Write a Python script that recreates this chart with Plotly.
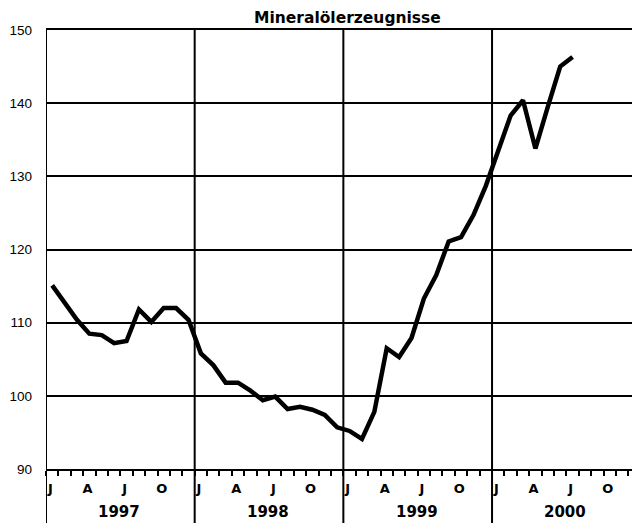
import plotly.graph_objects as go

# Monthly index values, Jan 1997 .. Jul 2000
values = [115.1, 112.7, 110.4, 108.5, 108.3, 107.2, 107.5, 111.8, 110.1, 112.0, 112.0, 110.4,
          105.8, 104.2, 101.8, 101.8, 100.7, 99.4, 99.9, 98.2, 98.5, 98.1, 97.4, 95.7,
          95.2, 94.1, 97.8, 106.5, 105.3, 107.9, 113.3, 116.5, 121.1, 121.7, 124.7, 128.7,
          133.4, 138.3, 140.4, 133.8, 139.5, 145.0, 146.3]
years = ["1997", "1998", "1999", "2000"]
month_letters = ["J", "A", "J", "O"]
month_letter_idx = [0, 3, 6, 9]
y_ticks = [90, 100, 110, 120, 130, 140, 150]
title = "Mineralölerzeugnisse"

x_vals = [i + 0.5 for i in range(len(values))]
n_months = 12 * len(years)
x_max = 47.7

FONT = "Liberation Sans, Arial, sans-serif"
BOLD = "DejaVu Sans, sans-serif"

fig = go.Figure()
fig.add_trace(go.Scatter(x=x_vals, y=values, mode="lines",
                         line=dict(color="black", width=4.5, shape="linear"),
                         hoverinfo="skip", showlegend=False))

# month letter tick labels
lab_pos = []
lab_txt = []
for yi in range(len(years)):
    for m, t in zip(month_letter_idx, month_letters):
        lab_pos.append(yi * 12 + m + 0.35)
        lab_txt.append(t)

fig.update_xaxes(range=[0, x_max], showgrid=False, zeroline=False, automargin=False,
                 showline=True, mirror=True, linecolor="black", linewidth=2,
                 tickmode="array", tickvals=lab_pos, ticktext=lab_txt,
                 ticks="outside", ticklen=0, tickcolor="white",
                 ticklabelstandoff=6,
                 tickfont=dict(family=BOLD, size=13, color="black", weight="bold"),
                 minor=dict(tickmode="array", tickvals=list(range(0, n_months + 1)),
                            ticks="outside", ticklen=5, tickcolor="black", tickwidth=1.5,
                            showgrid=False))
fig.update_yaxes(range=[90, 150], tickvals=y_ticks, showgrid=True, automargin=False,
                 gridcolor="black", gridwidth=2, zeroline=False, showline=False,
                 ticks="", ticklabelstandoff=13,
                 tickfont=dict(family=FONT, size=13.5, color="black"))

# page has an 8px body margin; figure is sized so plot lands at 46..637 x 30..469
W, H = 632, 515
M_L, M_R, M_T, M_B = 38, 3, 22, 54
plot_h = H - M_T - M_B

shapes = []
ext = -M_B / plot_h
for yi in range(len(years)):
    shapes.append(dict(type="line", xref="x", yref="paper", x0=yi * 12, x1=yi * 12,
                       y0=ext, y1=1, line=dict(color="black", width=2)))
shapes.append(dict(type="line", xref="x", yref="paper", x0=x_max, x1=x_max,
                   y0=ext, y1=1, line=dict(color="black", width=2)))
fig.update_layout(shapes=shapes)

annotations = []
for yi, yr in enumerate(years):
    annotations.append(dict(x=yi * 12 + 6, y=0, xref="x", yref="paper", text=yr,
                            showarrow=False, yanchor="middle", yshift=-43, xshift=-1,
                            font=dict(family=BOLD, size=15, color="black", weight="bold")))
annotations.append(dict(x=0.5, y=1, xref="paper", yref="paper", text=title,
                        showarrow=False, yanchor="middle", yshift=12.5, xshift=6,
                        font=dict(family=BOLD, size=15.5, color="black", weight="bold")))
fig.update_layout(annotations=annotations)

fig.update_layout(width=W, height=H, margin=dict(l=M_L, r=M_R, t=M_T, b=M_B),
                  paper_bgcolor="white", plot_bgcolor="white", showlegend=False)

fig.write_html("out.html")
